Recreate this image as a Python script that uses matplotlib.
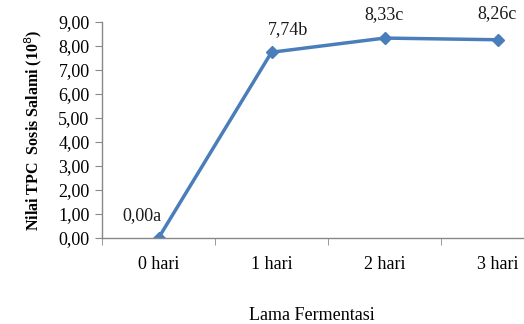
import matplotlib.pyplot as plt

categories = ["0 hari", "1 hari", "2 hari", "3 hari"]
tpc = [0.00, 7.74, 8.33, 8.26]
point_labels = ["0,00a", "7,74b", "8,33c", "8,26c"]

plt.rcParams["font.family"] = ["Liberation Serif", "DejaVu Serif"]

fig = plt.figure(figsize=(5.24, 3.24), dpi=100)
ax = fig.add_axes([0.1947, 0.2654, 0.8626, 0.6667])

x = list(range(len(categories)))
ax.plot(x, tpc, color="#4A7EBB", lw=2.5, marker="D", ms=6.5, mfc="#4A7EBB", mec="#4A7EBB")

# label offsets in points (text bottom-centre relative to the marker)
offsets = [(-12, 10), (12, 10), (0, 11), (0, 13)]
for xi, yi, lab, off in zip(x, tpc, point_labels, offsets):
    ax.annotate(lab, (xi, yi), xytext=off, textcoords="offset points",
                ha="center", va="bottom", fontsize=13, color="#1a1a1a")

ax.set_xlim(-0.5, 3.5)
ax.set_ylim(0, 9)
ax.set_yticks([i for i in range(10)])
ax.set_yticklabels([f"{i},00" for i in range(10)])
ax.set_xticks(x)
ax.set_xticklabels(categories)
ax.set_xticks([-0.5, 0.5, 1.5, 2.5, 3.5], minor=True)
ax.tick_params(axis="x", which="major", length=0, pad=13, labelsize=13)
ax.tick_params(axis="x", which="minor", length=5, color="#888888", direction="out")
ax.tick_params(axis="y", length=5, color="#888888", labelsize=13, pad=4)

for side in ["top", "right"]:
    ax.spines[side].set_visible(False)
for side in ["left", "bottom"]:
    ax.spines[side].set_color("#888888")
    ax.spines[side].set_linewidth(1)

ax.set_ylabel("Nilai TPC  Sosis Salami (10$^8$)", fontsize=11.5, fontweight="bold", labelpad=10)
fig.text(312 / 524, 1 - 316 / 324, "Lama Fermentasi", ha="center", va="center", fontsize=13)

fig.savefig("out.png", dpi=100)
